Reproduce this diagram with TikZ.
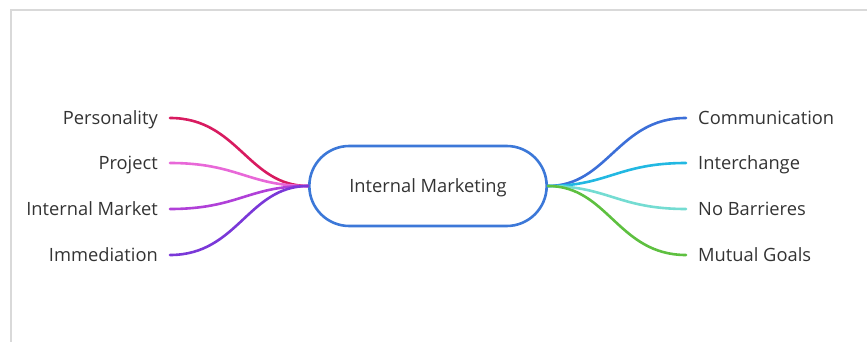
\documentclass[tikz,border=0pt]{standalone}
\usepackage{fontspec}
\setmainfont{Open Sans}
\usetikzlibrary{shapes.misc}
\definecolor{txt}{HTML}{333333}
\definecolor{frame}{HTML}{D9D9D9}
\definecolor{cmain}{HTML}{3C78D8}
\definecolor{cpers}{HTML}{D81B60}
\definecolor{cproj}{HTML}{E868D8}
\definecolor{cimark}{HTML}{B040D8}
\definecolor{cimm}{HTML}{7A38D8}
\definecolor{ccomm}{HTML}{3C6FD8}
\definecolor{cinter}{HTML}{22B8E2}
\definecolor{cnobar}{HTML}{74DCD2}
\definecolor{cmut}{HTML}{5EC040}
\begin{document}
\begin{tikzpicture}[x=1pt,y=-1pt,
  lbl/.style={font=\fontsize{18.3}{21}\selectfont, text=txt, inner sep=0pt, text height=14.5pt, text depth=2pt},
  branch/.style={line width=2.6pt, line cap=round},
  hub/.style={rounded rectangle, draw=cmain, line width=2.6pt, minimum width=244pt, minimum height=80pt, font=\fontsize{18.3}{21}\selectfont, text=txt, text height=14.5pt, text depth=2pt}]
\useasboundingbox (0,0) rectangle (867,342);
\draw[frame, line width=2pt] (11,342) -- (11,10) -- (867,10);
\node[hub] (c) at (428,186) {Internal Marketing};
% left
\node[lbl, anchor=east] (p1) at (158,118) {Personality};
\node[lbl, anchor=east] (p2) at (158,163) {Project};
\node[lbl, anchor=east] (p3) at (158,209) {Internal Market};
\node[lbl, anchor=east] (p4) at (158,255) {Immediation};
% right
\node[lbl, anchor=west] (q1) at (698,118) {Communication};
\node[lbl, anchor=west] (q2) at (698,163) {Interchange};
\node[lbl, anchor=west] (q3) at (698,209) {No Barrieres};
\node[lbl, anchor=west] (q4) at (698,255) {Mutual Goals};
\foreach \n/\col in {p1/cpers,p2/cproj,p3/cimark,p4/cimm}{
  \draw[branch, \col] ([xshift=12pt]\n.east) .. controls ([xshift=80pt]\n.east) and ([xshift=-60pt]c.west) .. (c.west);
}
\foreach \n/\col in {q1/ccomm,q2/cinter,q3/cnobar,q4/cmut}{
  \draw[branch, \col] (c.east) .. controls ([xshift=60pt]c.east) and ([xshift=-80pt]\n.west) .. ([xshift=-12pt]\n.west);
}
\end{tikzpicture}
\end{document}
